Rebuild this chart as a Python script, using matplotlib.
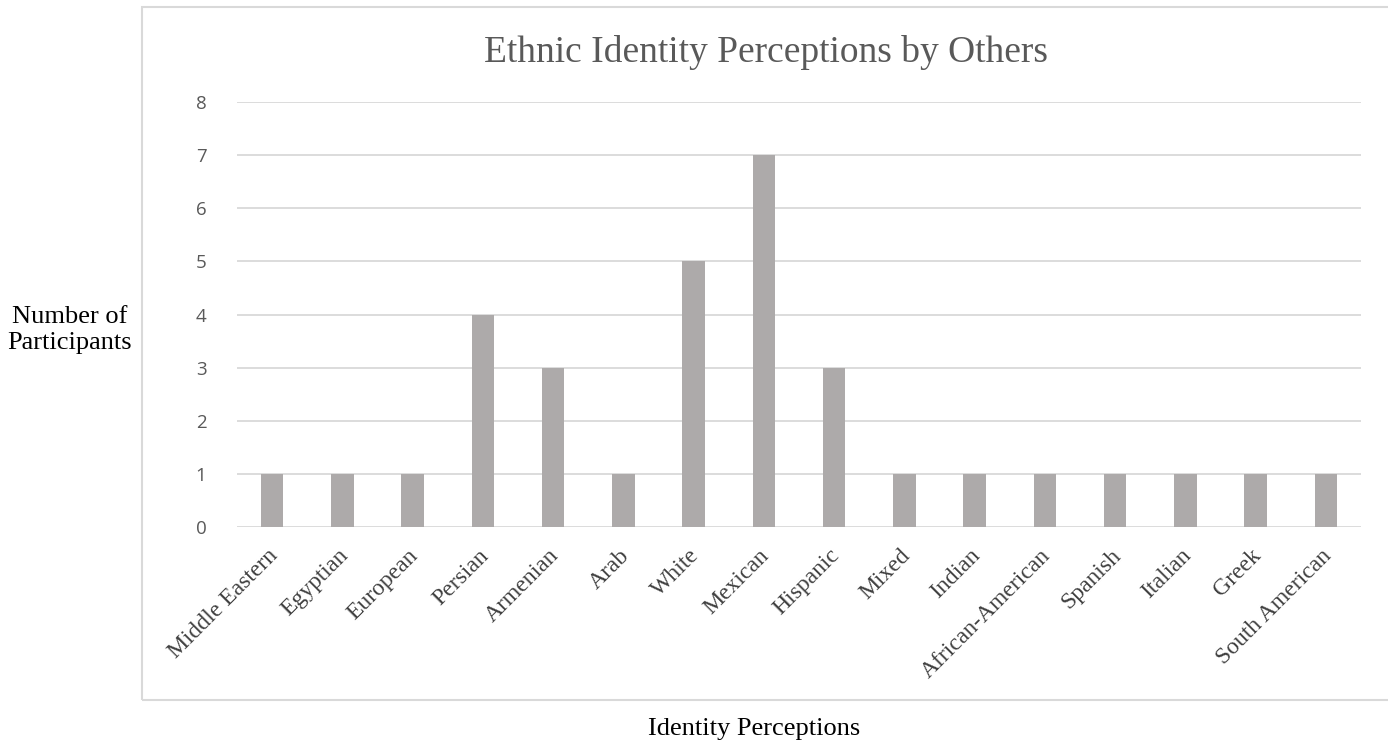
import matplotlib
matplotlib.use("Agg")
import matplotlib.pyplot as plt
from matplotlib.patches import Rectangle
from matplotlib.transforms import ScaledTranslation

categories = ["Middle Eastern", "Egyptian", "European", "Persian", "Armenian", "Arab",
              "White", "Mexican", "Hispanic", "Mixed", "Indian", "African-American",
              "Spanish", "Italian", "Greek", "South American"]
values = [1, 1, 1, 4, 3, 1, 5, 7, 3, 1, 1, 1, 1, 1, 1, 1]
yticks = [0, 1, 2, 3, 4, 5, 6, 7, 8]

W, H = 1388, 742
fig = plt.figure(figsize=(W / 100, H / 100), dpi=100)
fig.patch.set_facecolor("white")

# chart border box
fig.patches.append(Rectangle((142 / W, 1 - 700 / H), (W + 10 - 142) / W, (700 - 7) / H,
                             transform=fig.transFigure, fill=False,
                             edgecolor="#D9D9D9", linewidth=1.5, zorder=0))

ax = fig.add_axes([237 / W, 1 - 527 / H, (1361 - 237) / W, (527 - 102) / H])
x = list(range(len(categories)))
ax.bar(x, values, width=0.32, color="#ADAAAA", zorder=3)
ax.set_xlim(-0.5, len(categories) - 0.5)
ax.set_ylim(0, 8)
ax.set_yticks(yticks)
ax.set_yticklabels([str(v) for v in yticks], fontfamily="Open Sans", fontsize=13.5, color="#595959")
ax.tick_params(axis="y", length=0, pad=22)
ax.tick_params(axis="x", length=0, pad=13)
ax.set_xticks(x)
ax.set_xticklabels(categories, rotation=45, ha="right", rotation_mode="anchor",
                   fontfamily="Liberation Serif", fontsize=17, color="#404040")
offset = ScaledTranslation(-5 / 100, 0, fig.dpi_scale_trans)
for lbl in ax.get_xticklabels():
    lbl.set_transform(lbl.get_transform() + offset)
ax.grid(axis="y", color="#D9D9D9", linewidth=1.3, zorder=0)
for s in ax.spines.values():
    s.set_visible(False)

fig.text(766 / W, 1 - 52 / H, "Ethnic Identity Perceptions by Others", ha="center", va="center",
         fontfamily="Liberation Serif", fontsize=27, color="#595959")
fig.text(70 / W, 1 - 330 / H, "Number of\nParticipants", ha="center", va="center",
         fontfamily="Liberation Serif", fontsize=19, color="black", linespacing=1.25)
fig.text(754 / W, 1 - 729 / H, "Identity Perceptions", ha="center", va="center",
         fontfamily="Liberation Serif", fontsize=19, color="black")

fig.savefig("out.png", dpi=100)
